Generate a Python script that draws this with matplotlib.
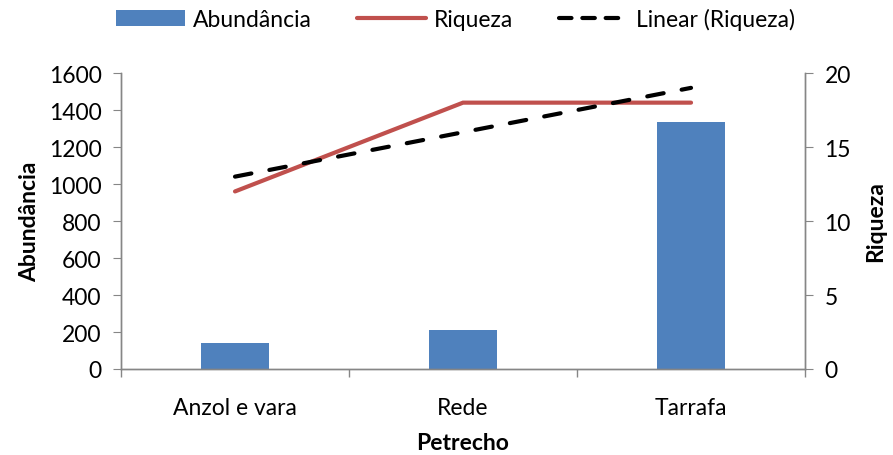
import matplotlib
matplotlib.use("Agg")
import matplotlib.pyplot as plt
import numpy as np
from matplotlib.lines import Line2D
from matplotlib.patches import Patch

categories = ["Anzol e vara", "Rede", "Tarrafa"]
abundancia = [143, 211, 1335]
riqueza = [12, 18, 18]

plt.rcParams["font.family"] = ["Lato", "DejaVu Sans"]
plt.rcParams["font.size"] = 16.5

BLUE = "#4F81BD"
RED = "#C0504D"
GRAY = "#868686"

fig = plt.figure(figsize=(8.93, 4.56), dpi=100)
ax = fig.add_axes([0.1355, 0.1886, 0.766, 0.649])
ax2 = ax.twinx()

x = np.arange(len(categories))
ax.bar(x, abundancia, width=0.3, color=BLUE, zorder=2)
ax.set_xlim(-0.5, len(categories) - 0.5)
ax.set_ylim(0, 1600)
ax.set_yticks(np.arange(0, 1601, 200))

ax2.plot(x, riqueza, color=RED, lw=3, solid_capstyle="round",
         solid_joinstyle="miter", zorder=3)
coef = np.polyfit(x, riqueza, 1)
ax2.plot(x, np.polyval(coef, x), color="black", lw=3, dashes=(4.0, 4.4),
         dash_capstyle="round", zorder=4)
ax2.set_ylim(0, 20)
ax2.set_yticks(np.arange(0, 21, 5))

# category axis with ticks between groups
ax.set_xticks(x)
ax.set_xticklabels(categories)
ax.tick_params(axis="x", length=0, pad=20)
ax.set_xticks(np.arange(-0.5, len(categories) + 0.5, 1), minor=True)
ax.tick_params(axis="x", which="minor", length=6, color=GRAY, width=1)

for a in (ax, ax2):
    a.spines["top"].set_visible(False)
    for s in ("left", "right", "bottom"):
        a.spines[s].set_color(GRAY)
        a.spines[s].set_linewidth(1)
ax.tick_params(axis="y", length=6, color=GRAY, pad=8)
ax2.tick_params(axis="y", length=6, color=GRAY, pad=8)

ax.set_xlabel("Petrecho", fontweight="bold", fontsize=16.5, labelpad=10)
ax.set_ylabel("Abundância", fontweight="bold", fontsize=16.5, labelpad=6)
ax2.set_ylabel("Riqueza", fontweight="bold", fontsize=16.5, labelpad=10)

handles = [
    Patch(facecolor=BLUE),
    Line2D([], [], color=RED, lw=3, solid_capstyle="round"),
    Line2D([], [], color="black", lw=3, dashes=(3.0, 2.6), dash_capstyle="round"),
]
fig.legend(handles, ["Abundância", "Riqueza", "Linear (Riqueza)"],
           loc="upper center", bbox_to_anchor=(0.51, 1.025), ncol=3,
           frameon=False, fontsize=16.5, handlelength=3.0, handletextpad=0.35,
           columnspacing=2.0)

fig.savefig("out.png", dpi=100)
